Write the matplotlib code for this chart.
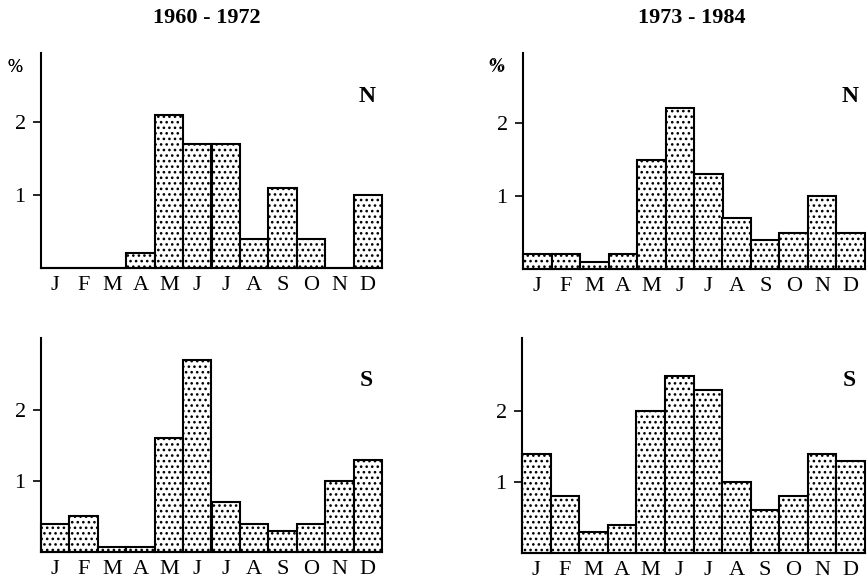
import matplotlib
matplotlib.use("Agg")
import matplotlib.pyplot as plt

plt.rcParams['font.family'] = ['Liberation Serif', 'DejaVu Serif']
plt.rcParams['hatch.linewidth'] = 1.1
plt.rcParams['hatch.color'] = 'black'

months = ["J", "F", "M", "A", "M", "J", "J", "A", "S", "O", "N", "D"]
titles = ["1960 - 1972", "1973 - 1984"]
n_1960 = [0, 0, 0, 0.2, 2.1, 1.7, 1.7, 0.4, 1.1, 0.4, 0, 1.0]
n_1973 = [0.2, 0.2, 0.1, 0.2, 1.5, 2.2, 1.3, 0.7, 0.4, 0.5, 1.0, 0.5]
s_1960 = [0.4, 0.5, 0.07, 0.07, 1.6, 2.7, 0.7, 0.4, 0.3, 0.4, 1.0, 1.3]
s_1973 = [1.4, 0.8, 0.3, 0.4, 2.0, 2.5, 2.3, 1.0, 0.6, 0.8, 1.4, 1.3]
yticks = [1, 2]

W, H = 867, 586
fig = plt.figure(figsize=(W / 100, H / 100), dpi=100)

# (left px, right px, baseline px, top px, ymax, data, letter)
panels = [
    (41, 382, 268, 53, 2.95, n_1960, "N"),
    (523, 865, 269, 53, 2.96, n_1973, "N"),
    (41, 382, 552, 338, 3.01, s_1960, "S"),
    (522, 865, 553, 338, 3.03, s_1973, "S"),
]

for left, right, base, top, ymax, vals, letter in panels:
    ax = fig.add_axes([left / W, (H - base) / H, (right - left) / W, (base - top) / H])
    x = list(range(len(months)))
    ax.bar(x, vals, width=1.0, align='edge', facecolor='white', edgecolor='black',
           linewidth=1.5, hatch='...', clip_on=False)
    ax.set_xlim(0, 12)
    ax.set_ylim(0, ymax)
    for s in ['top', 'right']:
        ax.spines[s].set_visible(False)
    for s in ['left', 'bottom']:
        ax.spines[s].set_linewidth(1.5)
    ax.set_xticks([i + 0.5 for i in x])
    ax.set_xticklabels(months, fontsize=16)
    ax.tick_params(axis='x', length=0, pad=6)
    ax.set_yticks(yticks)
    ax.set_yticklabels([str(t) for t in yticks], fontsize=16)
    ax.tick_params(axis='y', length=6, width=1.2, pad=5, direction='out')
    ax.text(-26 / (right - left), (base - 67) / (base - top), "%", transform=ax.transAxes,
            ha='center', va='center', fontsize=13)
    ax.text(0.955, 0.80, letter, transform=ax.transAxes, ha='center', va='center',
            fontsize=17, fontweight='bold')

fig.text(207 / W, 1 - 18 / H, titles[0], ha='center', va='center', fontsize=16, fontweight='bold')
fig.text(692 / W, 1 - 18 / H, titles[1], ha='center', va='center', fontsize=16, fontweight='bold')

fig.savefig("out.png", dpi=100)
